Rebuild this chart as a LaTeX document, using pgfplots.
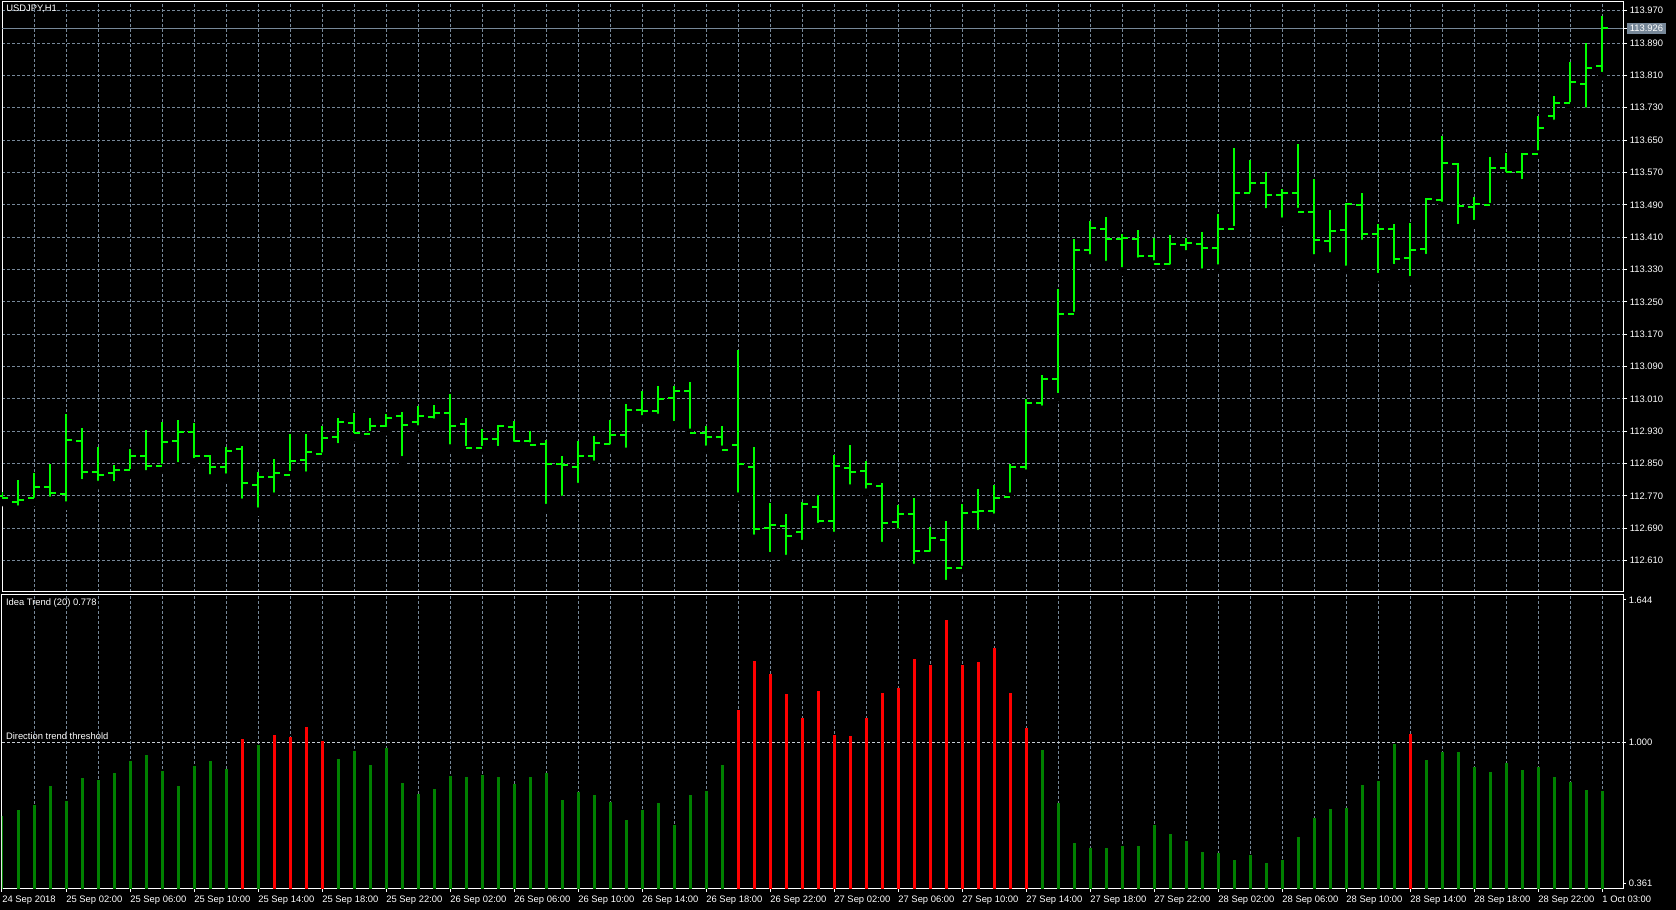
\documentclass[border=0pt]{standalone}
\usepackage{fontspec}
\setmainfont{Liberation Sans}
\usepackage{pgfplots}
\usepackage{pgfplotstable}
\pgfplotsset{compat=1.18}
\definecolor{gridc}{RGB}{119,136,153}
\definecolor{barlime}{RGB}{0,255,0}
\definecolor{histgreen}{RGB}{0,128,0}
\definecolor{histred}{RGB}{255,0,0}
\definecolor{thresh}{RGB}{200,205,212}
\pgfdeclareplotmark{otick}{\pgfpathmoveto{\pgfqpoint{-2.9pt}{0pt}}\pgfpathlineto{\pgfqpoint{0pt}{0pt}}\pgfusepathqstroke}
\pgfdeclareplotmark{ctick}{\pgfpathmoveto{\pgfqpoint{0pt}{0pt}}\pgfpathlineto{\pgfqpoint{2.9pt}{0pt}}\pgfusepathqstroke}
\newcommand\fs{\fontsize{4.7}{5.5}\selectfont}

\pgfplotstableread{
x o h l c
0 112.770 112.780 112.755 112.766
1 112.756 112.810 112.736 112.761
2 112.766 112.827 112.755 112.791
3 112.791 112.849 112.758 112.777
4 112.776 112.972 112.746 112.908
5 112.905 112.939 112.801 112.830
6 112.830 112.890 112.797 112.823
7 112.828 112.846 112.796 112.835
8 112.835 112.885 112.826 112.868
9 112.868 112.932 112.823 112.843
10 112.845 112.952 112.839 112.904
11 112.905 112.957 112.843 112.928
12 112.928 112.950 112.853 112.870
13 112.870 112.871 112.813 112.842
14 112.842 112.892 112.815 112.882
15 112.885 112.894 112.753 112.802
16 112.797 112.830 112.731 112.817
17 112.817 112.862 112.768 112.828
18 112.822 112.924 112.821 112.857
19 112.860 112.924 112.820 112.878
20 112.875 112.942 112.867 112.913
21 112.915 112.964 112.890 112.953
22 112.950 112.974 112.915 112.926
23 112.924 112.962 112.920 112.943
24 112.943 112.972 112.930 112.963
25 112.968 112.977 112.858 112.946
26 112.953 112.992 112.934 112.967
27 112.966 112.995 112.951 112.976
28 112.976 113.022 112.887 112.943
29 112.949 112.962 112.883 112.889
30 112.889 112.935 112.883 112.911
31 112.911 112.945 112.883 112.943
32 112.941 112.955 112.894 112.906
33 112.905 112.930 112.892 112.897
34 112.899 112.908 112.740 112.850
35 112.850 112.869 112.760 112.847
36 112.842 112.906 112.792 112.869
37 112.869 112.918 112.847 112.902
38 112.899 112.958 112.887 112.921
39 112.921 112.997 112.879 112.983
40 112.983 113.030 112.959 112.981
41 112.981 113.042 112.963 113.011
42 113.013 113.042 112.945 113.030
43 113.030 113.052 112.926 112.926
44 112.926 112.943 112.884 112.916
45 112.916 112.943 112.884 112.884
46 112.897 113.131 112.768 112.850
47 112.842 112.891 112.664 112.688
48 112.691 112.752 112.621 112.698
49 112.696 112.725 112.614 112.671
50 112.681 112.754 112.651 112.750
51 112.743 112.772 112.693 112.708
52 112.708 112.871 112.671 112.845
53 112.840 112.896 112.788 112.830
54 112.832 112.856 112.778 112.800
55 112.795 112.803 112.646 112.703
56 112.706 112.747 112.679 112.726
57 112.726 112.764 112.592 112.634
58 112.634 112.693 112.622 112.666
59 112.661 112.707 112.552 112.592
60 112.592 112.750 112.587 112.728
61 112.731 112.787 112.676 112.733
62 112.733 112.797 112.716 112.765
63 112.768 112.848 112.768 112.842
64 112.842 113.011 112.825 113.001
65 113.001 113.069 112.983 113.060
66 113.059 113.283 113.014 113.220
67 113.220 113.405 113.215 113.378
68 113.378 113.450 113.357 113.433
69 113.430 113.459 113.341 113.406
70 113.406 113.417 113.325 113.408
71 113.405 113.428 113.349 113.364
72 113.364 113.408 113.342 113.344
73 113.344 113.415 113.332 113.394
74 113.391 113.409 113.367 113.396
75 113.394 113.423 113.322 113.384
76 113.384 113.467 113.332 113.429
77 113.429 113.631 113.427 113.518
78 113.518 113.601 113.510 113.545
79 113.545 113.572 113.471 113.515
80 113.515 113.529 113.448 113.520
81 113.520 113.641 113.472 113.473
82 113.473 113.554 113.357 113.404
83 113.401 113.477 113.362 113.424
84 113.427 113.495 113.329 113.493
85 113.489 113.520 113.393 113.417
86 113.417 113.443 113.311 113.430
87 113.430 113.443 113.333 113.355
88 113.358 113.446 113.303 113.378
89 113.380 113.507 113.358 113.504
90 113.501 113.661 113.487 113.593
91 113.590 113.593 113.432 113.487
92 113.485 113.510 113.442 113.491
93 113.489 113.609 113.484 113.581
94 113.581 113.619 113.561 113.571
95 113.571 113.619 113.543 113.615
96 113.615 113.710 113.614 113.680
97 113.710 113.758 113.690 113.741
98 113.741 113.842 113.733 113.793
99 113.788 113.891 113.720 113.828
100 113.833 113.958 113.808 113.926
}\ohlc

\begin{document}
\begin{tikzpicture}
\fill[black] (0,0) rectangle (838pt,455pt);
\useasboundingbox (0,0) rectangle (838pt,455pt);
% ---------- price panel ----------
\begin{axis}[
  at={(1pt,159pt)}, anchor=south west, scale only axis,
  width=810.5pt, height=295pt,
  xmin=0, xmax=101.31, ymin=112.5326, ymax=113.9915,
  axis line style={white, line width=0.5pt},
  xtick={0,2,...,100}, xticklabels={}, xtick style={draw=none},
  ytick={112.61,112.69,112.77,112.85,112.93,113.01,113.09,113.17,113.25,113.33,113.41,113.49,113.57,113.65,113.73,113.81,113.89,113.97},
  ytick pos=right, yticklabel pos=right,
  tick align=outside, major tick length=2pt,
  ytick style={white, line width=0.5pt},
  /pgf/number format/assume math mode=true,
  yticklabel style={font=\fs, text=white, anchor=west, inner sep=1.2pt,
    /pgf/number format/fixed, /pgf/number format/fixed zerofill, /pgf/number format/precision=3},
  grid=major, major grid style={gridc, dash pattern=on 1.5pt off 1pt, line width=0.5pt},
  extra y ticks={113.926},
  extra y tick style={grid=none, yticklabel style={fill=gridc, text=white, inner sep=1.2pt}},
]
\addplot[gridc, line width=0.5pt, forget plot] coordinates {(0,113.926) (101.31,113.926)};
\addplot[only marks, mark=none, forget plot,
  error bars/.cd, y dir=plus, y explicit,
  error bar style={draw=barlime, line width=1pt, solid}, error mark=none]
  table[x=x, y=l, y error plus expr={\thisrow{h}-\thisrow{l}}] {\ohlc};
\addplot[only marks, mark=otick, mark options={draw=barlime, line width=1pt, solid}] table[x=x, y=o] {\ohlc};
\addplot[only marks, mark=ctick, mark options={draw=barlime, line width=1pt, solid}] table[x=x, y=c] {\ohlc};
\end{axis}
% ---------- indicator panel ----------
\begin{axis}[
  at={(1pt,10.5pt)}, anchor=south west, scale only axis,
  width=810.5pt, height=147pt,
  xmin=0, xmax=101.31, ymin=0.3373, ymax=1.6656,
  axis line style={white, line width=0.5pt},
  xtick={0,4,...,100}, minor xtick={2,6,...,98},
  xticklabels={24 Sep 2018,25 Sep 02:00,25 Sep 06:00,25 Sep 10:00,25 Sep 14:00,25 Sep 18:00,25 Sep 22:00,26 Sep 02:00,26 Sep 06:00,26 Sep 10:00,26 Sep 14:00,26 Sep 18:00,26 Sep 22:00,27 Sep 02:00,27 Sep 06:00,27 Sep 10:00,27 Sep 14:00,27 Sep 18:00,27 Sep 22:00,28 Sep 02:00,28 Sep 06:00,28 Sep 10:00,28 Sep 14:00,28 Sep 18:00,28 Sep 22:00,1 Oct 03:00},
  xtick pos=left, xticklabel style={font=\fs, text=white, anchor=north west, inner sep=0pt, yshift=-2pt},
  ytick={0.361,1.0,1.644},
  ytick pos=right, yticklabel pos=right,
  tick align=outside, major tick length=1.5pt, minor tick length=0pt,
  tick style={white, line width=0.5pt},
  /pgf/number format/assume math mode=true,
  yticklabel style={font=\fs, text=white, anchor=west, inner sep=1.2pt,
    /pgf/number format/fixed, /pgf/number format/fixed zerofill, /pgf/number format/precision=3},
  xmajorgrids, xminorgrids,
  major grid style={gridc, dash pattern=on 1.5pt off 1pt, line width=0.5pt},
  minor grid style={gridc, dash pattern=on 1.5pt off 1pt, line width=0.5pt},
]
\addplot[thresh, line width=0.5pt, dash pattern=on 1.5pt off 1pt, forget plot] coordinates {(0,1) (101.31,1)};
\addplot[ycomb, histgreen, line width=1.5pt] coordinates {
(0,0.667) (1,0.694) (2,0.717) (3,0.803) (4,0.735) (5,0.839) (6,0.830) (7,0.861) (8,0.916) (9,0.943)
(10,0.870) (11,0.803) (12,0.893) (13,0.916) (14,0.880) (16,0.988)
(21,0.925) (22,0.961) (23,0.898) (24,0.974) (25,0.816) (26,0.767) (27,0.789) (28,0.848) (29,0.843)
(30,0.852) (31,0.843) (32,0.812) (33,0.843) (34,0.861) (35,0.739) (36,0.776) (37,0.762) (38,0.730) (39,0.649)
(40,0.694) (41,0.726) (42,0.627) (43,0.762) (44,0.780) (45,0.898)
(65,0.965) (66,0.726) (67,0.545) (68,0.523) (69,0.523)
(70,0.532) (71,0.532) (72,0.627) (73,0.586) (74,0.554) (75,0.505) (76,0.500) (77,0.468) (78,0.491) (79,0.455)
(80,0.468) (81,0.572) (82,0.658) (83,0.699) (84,0.703) (85,0.807) (86,0.825) (87,0.992)
(89,0.920) (90,0.956) (91,0.956) (92,0.889) (93,0.866) (94,0.907) (95,0.875) (96,0.889) (97,0.843) (98,0.821) (99,0.785)
(100,0.778)};
\addplot[ycomb, histred, line width=1.5pt] coordinates {
(15,1.015) (17,1.033) (18,1.024) (19,1.069) (20,1.006)
(46,1.146) (47,1.367) (48,1.309) (49,1.218) (50,1.110) (51,1.232) (52,1.033) (53,1.029) (54,1.110)
(55,1.223) (56,1.245) (57,1.377) (58,1.349) (59,1.553) (60,1.349) (61,1.363) (62,1.426) (63,1.223) (64,1.065)
(88,1.038)};
\end{axis}
\node[anchor=west, text=white, font=\fs, inner sep=0pt] at (3pt,450.5pt) {USDJPY,H1};
\node[anchor=west, text=white, font=\fs, inner sep=0pt] at (2.8pt,153.4pt) {Idea Trend (20) 0.778};
\node[anchor=west, text=white, font=\fs, inner sep=0pt] at (2.8pt,86.7pt) {Direction trend threshold};
\end{tikzpicture}
\end{document}
